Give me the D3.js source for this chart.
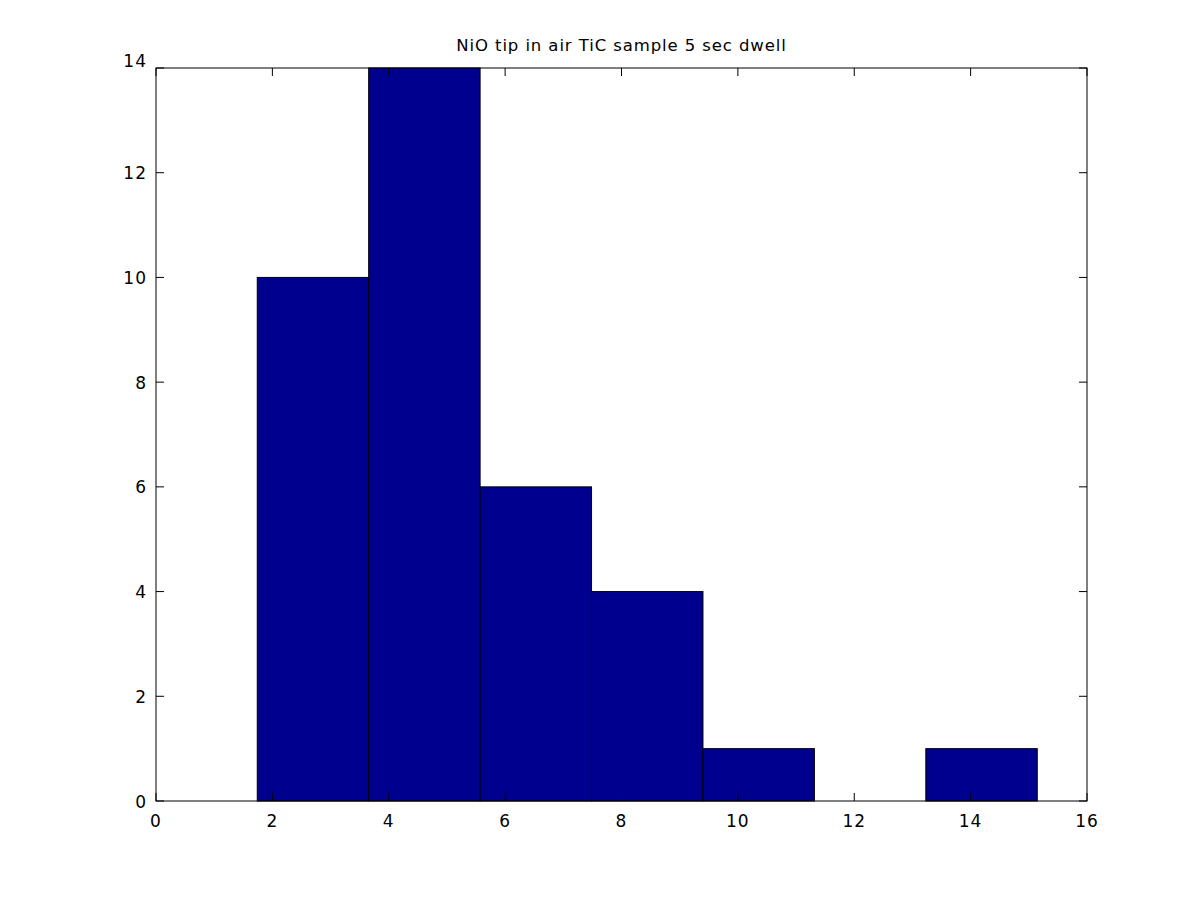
<!DOCTYPE html>
<html>
<head>
<meta charset="utf-8">
<script src="https://cdn.jsdelivr.net/npm/d3@7"></script>
<style>
  body { margin: 0; background: #fff; }
  text { font-family: "DejaVu Sans", sans-serif; fill: #000; }
</style>
</head>
<body>
<script>
// histogram bins (edges) and counts
const binEdges = [1.74, 3.655, 5.57, 7.485, 9.40, 11.315, 13.23, 15.145];
const counts = [10, 14, 6, 4, 1, 0, 1];
const xTicks = [0, 2, 4, 6, 8, 10, 12, 14, 16];
const yTicks = [0, 2, 4, 6, 8, 10, 12, 14];
const title = "NiO tip in air TiC sample 5 sec dwell";

const W = 1201, H = 900;
const m = {left: 156, top: 68, right: 1087, bottom: 801};

const svg = d3.select(document.body).append("svg")
    .attr("width", W).attr("height", H);

const x = d3.scaleLinear().domain([0, 16]).range([m.left, m.right]);
const y = d3.scaleLinear().domain([0, 14]).range([m.bottom, m.top]);

const bins = counts.map((c, i) => ({x0: binEdges[i], x1: binEdges[i + 1], n: c}));

svg.append("g")
  .selectAll("rect")
  .data(bins.filter(d => d.n > 0))
  .enter().append("rect")
    .attr("x", d => x(d.x0))
    .attr("y", d => y(d.n))
    .attr("width", d => x(d.x1) - x(d.x0))
    .attr("height", d => y(0) - y(d.n))
    .attr("fill", "#00008f")
    .attr("stroke", "#000")
    .attr("stroke-width", 1);

const tick = 8;
const g = svg.append("g").attr("stroke", "#000").attr("stroke-width", 1);

// box
g.append("rect")
  .attr("x", m.left).attr("y", m.top)
  .attr("width", m.right - m.left).attr("height", m.bottom - m.top)
  .attr("fill", "none");

// ticks on all four sides, pointing in
xTicks.forEach(t => {
  g.append("line").attr("x1", x(t)).attr("x2", x(t)).attr("y1", m.bottom).attr("y2", m.bottom - tick);
  g.append("line").attr("x1", x(t)).attr("x2", x(t)).attr("y1", m.top).attr("y2", m.top + tick);
});
yTicks.forEach(t => {
  g.append("line").attr("x1", m.left).attr("x2", m.left + tick).attr("y1", y(t)).attr("y2", y(t));
  g.append("line").attr("x1", m.right).attr("x2", m.right - tick).attr("y1", y(t)).attr("y2", y(t));
});

svg.append("g").selectAll("text")
  .data(xTicks).enter().append("text")
    .attr("x", d => x(d))
    .attr("y", m.bottom + 26)
    .attr("text-anchor", "middle")
    .attr("font-size", 17)
    .attr("letter-spacing", 1)
    .text(d => d);

svg.append("g").selectAll("text")
  .data(yTicks).enter().append("text")
    .attr("x", m.left - 9)
    .attr("y", d => d === 14 ? y(d) - 1 : y(d) + 6.5)
    .attr("text-anchor", "end")
    .attr("font-size", 17)
    .attr("letter-spacing", 1)
    .text(d => d);

svg.append("text")
  .attr("x", (m.left + m.right) / 2)
  .attr("y", 51)
  .attr("text-anchor", "middle")
  .attr("font-size", 16.5)
  .attr("letter-spacing", 0.9)
  .text(title);
</script>
</body>
</html>
